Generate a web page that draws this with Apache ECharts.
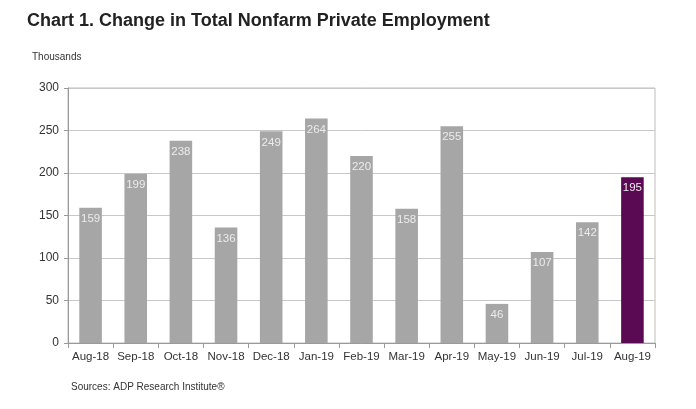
<!DOCTYPE html>
<html><head><meta charset="utf-8">
<script src="https://cdn.jsdelivr.net/npm/echarts@6/dist/echarts.min.js"></script>
<style>html,body{margin:0;padding:0;background:#fff;}#c{width:696px;height:409px;}</style>
</head><body><div id="c"></div>
<script>
const categories = ['Aug-18','Sep-18','Oct-18','Nov-18','Dec-18','Jan-19','Feb-19','Mar-19','Apr-19','May-19','Jun-19','Jul-19','Aug-19'];
const values = [159,199,238,136,249,264,220,158,255,46,107,142,195];
const yTicks = [0,50,100,150,200,250,300];
const highlightIndex = 12;

const chart = echarts.init(document.getElementById('c'), null, {renderer:'canvas'});
const F = 'Liberation Sans, Arial, sans-serif';
chart.setOption({
  animation:false,
  backgroundColor:'#fff',
  title:[
    {text:'Chart 1. Change in Total Nonfarm Private Employment', left:22, top:7,
     textStyle:{fontFamily:F, fontSize:18, fontWeight:'bold', color:'#222'}},
    {text:'Thousands', left:27, top:47, textStyle:{fontFamily:F, fontSize:10, fontWeight:'normal', color:'#333'}},
    {text:'Sources: ADP Research Institute®', left:66, top:377, textStyle:{fontFamily:F, fontSize:10, fontWeight:'normal', color:'#333'}}
  ],
  grid:{left:68, right:41, top:88, bottom:66, show:true, borderColor:'#bdbdbd', borderWidth:1},
  xAxis:{type:'category', data:categories,
    axisLine:{lineStyle:{color:'#9a9a9a'}},
    axisTick:{show:true, length:5, lineStyle:{color:'#9a9a9a'}},
    axisLabel:{fontFamily:F, fontSize:11.5, color:'#333', margin:8, interval:0}},
  yAxis:{type:'value', min:yTicks[0], max:yTicks[yTicks.length-1], interval:50,
    axisLine:{show:true, lineStyle:{color:'#9a9a9a'}},
    axisTick:{show:true, length:4, lineStyle:{color:'#9a9a9a'}},
    splitLine:{lineStyle:{color:'#c8c8c8'}},
    axisLabel:{fontFamily:F, fontSize:12, color:'#333', margin:9}},
  series:[{type:'bar', barWidth:'50%',
    data: values.map((v,i)=>({value:v, itemStyle:{color: i===highlightIndex ? '#5a0a52' : '#a6a6a6'}})),
    label:{show:true, position:'insideTop', distance:5, color:'#ececec', fontFamily:F, fontSize:11.5}
  }]
});
</script></body></html>
